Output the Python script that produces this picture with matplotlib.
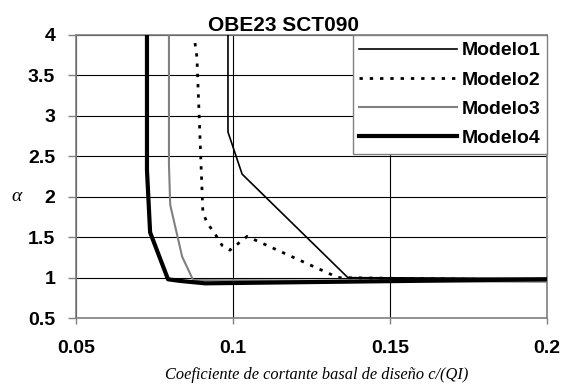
import matplotlib.pyplot as plt

# Data
m1_x = [0.0984, 0.0984, 0.1029, 0.1366, 0.2]
m1_y = [4.0, 2.80, 2.28, 1.00, 0.99]

m2_x = [0.0879, 0.0885, 0.0904, 0.0917, 0.0943, 0.0965, 0.0990, 0.1045, 0.1335, 0.2]
m2_y = [3.90, 3.73, 1.81, 1.68, 1.54, 1.40, 1.34, 1.51, 1.00, 0.97]

m3_x = [0.0796, 0.0796, 0.0800, 0.0838, 0.0873, 0.2]
m3_y = [4.0, 2.40, 1.90, 1.26, 0.97, 0.95]

m4_x = [0.0726, 0.0726, 0.0736, 0.0793, 0.0831, 0.0911, 0.2]
m4_y = [4.0, 2.33, 1.56, 0.98, 0.96, 0.93, 0.98]

x_ticks = [0.05, 0.1, 0.15, 0.2]
y_ticks = [0.5, 1, 1.5, 2, 2.5, 3, 3.5, 4]

fig = plt.figure(figsize=(5.63, 3.87), dpi=100)
ax = fig.add_axes([0.135, 0.178, 0.8366, 0.7316])

ax.plot(m1_x, m1_y, color="black", lw=1.2, label="Modelo1", zorder=3)
ax.plot(m2_x, m2_y, color="black", lw=2.0, ls=(0, (1.2, 2.5)), label="Modelo2", zorder=3)
ax.plot(m3_x, m3_y, color="#808080", lw=1.5, label="Modelo3", zorder=3)
ax.plot(m4_x, m4_y, color="black", lw=3.0, label="Modelo4", zorder=4)

ax.set_xlim(0.05, 0.2)
ax.set_ylim(0.5, 4)
ax.set_xticks(x_ticks)
ax.set_xticklabels(["0.05", "0.1", "0.15", "0.2"])
ax.set_yticks(y_ticks)
ax.set_yticklabels(["0.5", "1", "1.5", "2", "2.5", "3", "3.5", "4"])
ax.grid(True, color="black", lw=0.8)
ax.set_axisbelow(True)
for s in ax.spines.values():
    s.set_color("#808080")
    s.set_linewidth(1.2)
ax.tick_params(direction="out", color="#808080", width=1)
ax.tick_params(axis="x", length=4.5, pad=11)
ax.tick_params(axis="y", length=6, pad=9)
for lab in ax.get_xticklabels() + ax.get_yticklabels():
    lab.set_fontweight("bold")
    lab.set_fontsize(14)
    lab.set_family("Liberation Sans")

ax.set_title("OBE23 SCT090", fontsize=15, fontweight="bold",
             family="Liberation Sans", pad=3, x=0.44)
ax.set_xlabel("Coeficiente de cortante basal de diseño c/(QI)",
              family="Liberation Serif", style="italic", fontsize=11.8)
ax.xaxis.set_label_coords(0.512, -0.172)
ax.set_ylabel("α", family="Liberation Serif", style="italic", fontsize=14,
              rotation=0, va="center", ha="center")
ax.yaxis.set_label_coords(-0.127, 0.43)

leg = ax.legend(loc="upper right", handlelength=5.0, handletextpad=0.25,
                borderaxespad=0, fancybox=False, framealpha=1,
                prop={"family": "Liberation Sans", "weight": "bold", "size": 14},
                labelspacing=0.6, borderpad=0.35)
leg.get_frame().set_edgecolor("#808080")
leg.get_frame().set_linewidth(1.0)

fig.savefig("out.png", dpi=100)
